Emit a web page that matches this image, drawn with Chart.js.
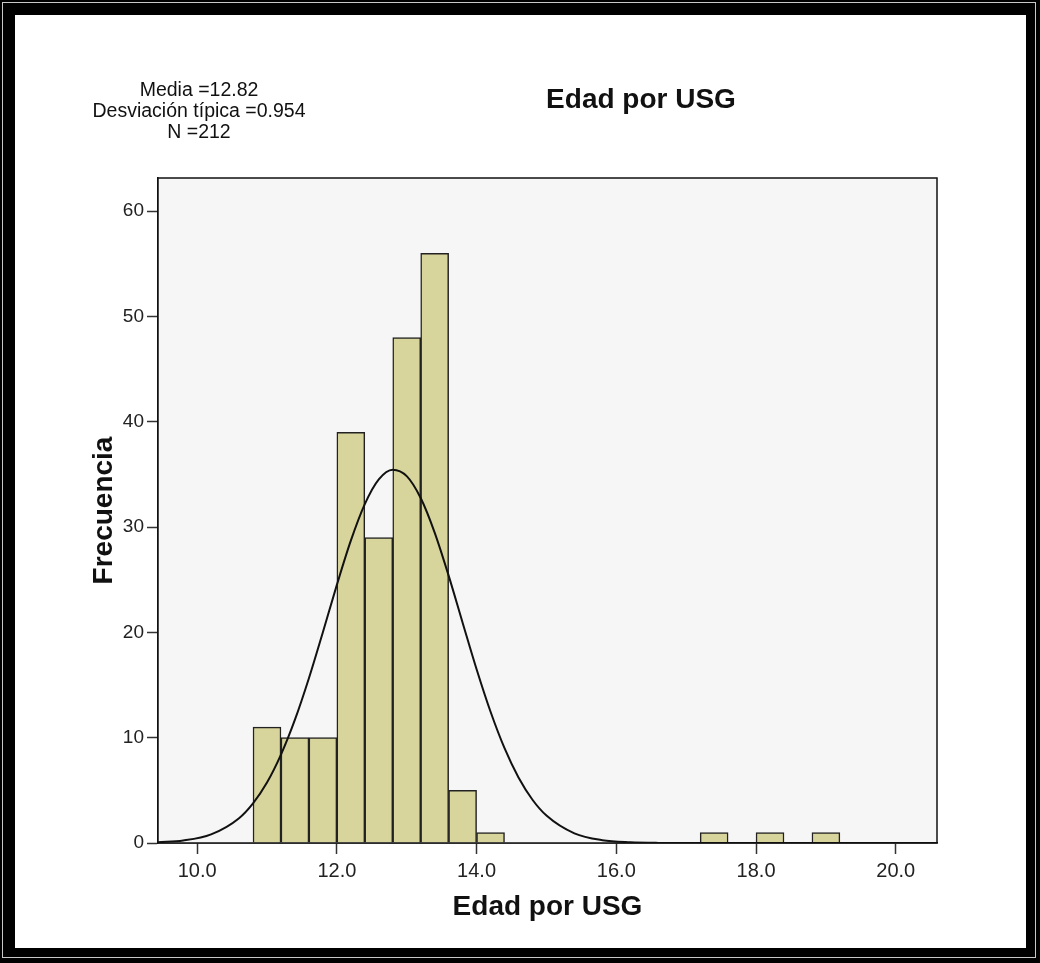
<!DOCTYPE html>
<html>
<head>
<meta charset="utf-8">
<script src="https://cdn.jsdelivr.net/npm/chart.js@4"></script>
<style>
  html, body { margin: 0; padding: 0; background: #000; width: 1040px; height: 963px; overflow: hidden; }
  #line { position: absolute; left: 2px; top: 2px; width: 1034px; height: 956px; box-sizing: border-box; border: 1px solid #c8c8c8; }
  #panel { position: absolute; left: 15px; top: 15px; width: 1011px; height: 933px; background: #fff; }
</style>
</head>
<body>
<div id="line"></div>
<div id="panel"><canvas id="myChart" width="1011" height="933"></canvas></div>
<script>
// histogram bins (center of each 0.4 wide bin) and counts
var binCenters = [11.0, 11.4, 11.8, 12.2, 12.6, 13.0, 13.4, 13.8, 14.2, 17.4, 18.2, 19.0];
var binCounts = [11, 10, 10, 39, 29, 48, 56, 5, 1, 1, 1, 1];

// normal curve
var curveX = [9.44, 9.8, 10.2, 10.6, 10.8, 11.0, 11.2, 11.4, 11.6, 11.8, 12.0, 12.2, 12.4, 12.6, 12.8,
  13.0, 13.2, 13.4, 13.6, 13.8, 14.0, 14.2, 14.4, 14.6, 14.8, 15.0, 15.4, 15.8, 16.2, 16.6, 17.0, 20.59];
var curveY = [0.07, 0.24, 0.82, 2.36, 3.77, 5.74, 8.39, 11.71, 15.65, 20.02, 24.51, 28.71, 32.18, 34.53, 35.45,
  34.84, 32.76, 29.48, 25.39, 20.92, 16.5, 12.46, 9.0, 6.22, 4.11, 2.61, 0.92, 0.27, 0.07, 0.01, 0, 0];

var statLines = ["Media =12.82", "Desviación típica =0.954", "N =212"];
var chartTitle = "Edad por USG";
var xTitle = "Edad por USG";
var yTitle = "Frecuencia";

var barData = binCenters.map(function (x, i) { return { x: x, y: binCounts[i] }; });
var curveData = curveX.map(function (x, i) { return { x: x, y: curveY[i] }; });

var FONT = "'Liberation Sans', Arial, sans-serif";

var frame = {
  id: "frame",
  beforeDatasetsDraw: function (chart) {
    var a = chart.chartArea, c = chart.ctx;
    c.save();
    c.fillStyle = "#f6f6f6";
    c.fillRect(a.left, a.top, a.right - a.left, a.bottom - a.top);
    c.restore();
  },
  afterDraw: function (chart) {
    var a = chart.chartArea, c = chart.ctx;
    c.save();
    c.strokeStyle = "#111";
    c.lineWidth = 1.5;
    c.strokeRect(a.left, a.top, a.right - a.left, a.bottom - a.top);

    c.fillStyle = "#111";
    c.textAlign = "center";
    c.textBaseline = "alphabetic";
    c.font = "19.5px " + FONT;
    c.fillText(statLines[0], 184, 81);
    c.fillText(statLines[1], 184, 101.5);
    c.fillText(statLines[2], 184, 122.5);

    c.font = "bold 28px " + FONT;
    c.fillText(chartTitle, 626, 93);
    c.fillText(xTitle, (a.left + a.right) / 2, 900);

    c.translate(96.5, (a.top + a.bottom) / 2);
    c.rotate(-Math.PI / 2);
    c.fillText(yTitle, 0, 0);
    c.restore();
  }
};

var ctx = document.getElementById("myChart").getContext("2d");
var chart = new Chart(ctx, {
  data: {
    datasets: [
      {
        type: "line",
        data: curveData,
        borderColor: "#111",
        borderWidth: 2,
        pointRadius: 0,
        fill: false,
        cubicInterpolationMode: "monotone",
        order: 0,
      },
      {
        type: "bar",
        data: barData,
        backgroundColor: "#d8d59c",
        borderColor: "#222",
        borderWidth: 1.5,
        barPercentage: 1,
        categoryPercentage: 1,
        order: 1,
      },
    ],
  },
  options: {
    responsive: false,
    animation: false,
    layout: { padding: { left: 83, right: 89, top: 163, bottom: 45 } },
    plugins: { legend: { display: false }, tooltip: { enabled: false } },
    scales: {
      x: {
        type: "linear",
        min: 9.44,
        max: 20.59,
        offset: false,
        afterFit: function (s) { s.height = 60; },
        grid: { offset: false, drawOnChartArea: false, tickLength: 11, tickColor: "#333", tickWidth: 1.5 },
        border: { display: true, color: "#111", width: 1.5 },
        ticks: {
          stepSize: 2,
          includeBounds: false,
          padding: 5,
          color: "#222",
          font: { family: FONT, size: 20 },
          maxRotation: 0,
          callback: function (v) { return v.toFixed(1); },
        },
      },
      y: {
        min: 0,
        max: 63.15,
        afterFit: function (s) { s.width = 60; },
        grid: { drawOnChartArea: false, tickLength: 11, tickColor: "#333", tickWidth: 1.5 },
        border: { display: true, color: "#111", width: 1.5 },
        ticks: {
          stepSize: 10,
          includeBounds: false,
          padding: 3,
          color: "#222",
          font: { family: FONT, size: 19 },
        },
      },
    },
  },
  plugins: [frame],
});
</script>
</body>
</html>
